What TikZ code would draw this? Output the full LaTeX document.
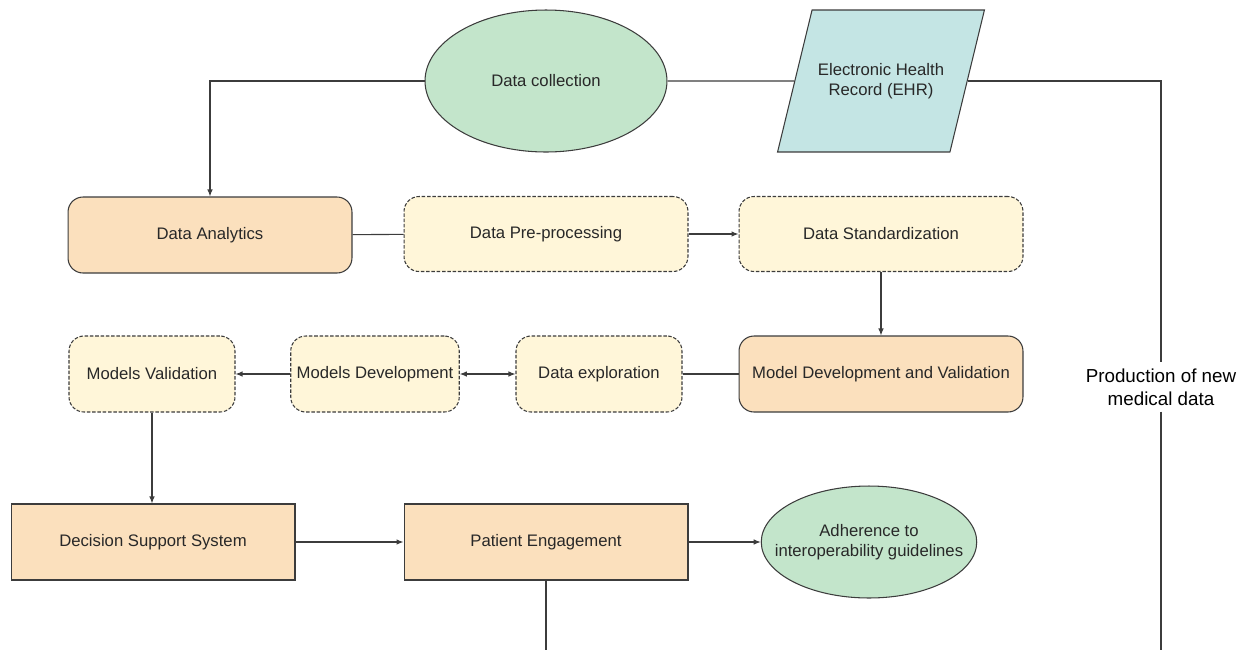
\documentclass[tikz,border=0pt]{standalone}
\usepackage{fontspec}
\setmainfont{Liberation Sans}
\usetikzlibrary{arrows.meta,shapes.geometric,positioning,calc}
\definecolor{peach}{RGB}{251,224,189}
\definecolor{cream}{RGB}{255,246,217}
\definecolor{leaf}{RGB}{195,229,203}
\definecolor{aqua}{RGB}{196,229,228}
\definecolor{edgegray}{RGB}{60,60,60}
\definecolor{textgray}{RGB}{40,40,40}
\tikzset{
    flow/.style={-{Latex[length=1.4mm, width=1.1mm]}, draw=edgegray, line width=0.6pt},
    twoway/.style={{Latex[length=1.4mm, width=1.1mm]}-{Latex[length=1.4mm, width=1.1mm]}, draw=edgegray, line width=0.6pt},
    link/.style={draw=edgegray, line width=0.6pt},
    boxtext/.style={font=\fontsize{9.5pt}{11.5pt}\selectfont, text=textgray, align=center},
    mainbox/.style={boxtext, draw=edgegray, line width=0.6pt, fill=peach, rounded corners=0.3cm, minimum width=5.68cm, minimum height=1.52cm},
    stepbox/.style={boxtext, draw=edgegray, line width=0.6pt, fill=cream, dash pattern=on 2pt off 1pt, rounded corners=0.3cm, minimum width=5.68cm, minimum height=1.5cm},
    smallbox/.style={stepbox, minimum width=3.32cm, minimum height=1.52cm},
    flatbox/.style={mainbox, rounded corners=0pt},
    bubble/.style={boxtext, ellipse, draw=edgegray, line width=0.6pt, fill=leaf, inner sep=0pt},
    record/.style={boxtext, trapezium, trapezium left angle=54, trapezium right angle=126, trapezium stretches body=true, draw=edgegray, line width=0.6pt, fill=aqua, minimum width=4.04cm, minimum height=2.84cm}
}

\begin{document}
\begin{tikzpicture}[x=0.02cm, y=-0.02cm]
\useasboundingbox (0,0) rectangle (1248,650);

% top row
\node[bubble, minimum width=4.84cm, minimum height=2.84cm] (collect) at (546,81) {Data collection};
\node[record] (ehr) at (881,81) {Electronic Health\\Record (EHR)};

% processing row
\node[mainbox] (analytics) at (210,235) {Data Analytics};
\node[stepbox] (preproc) at (546,234) {Data Pre-processing};
\node[stepbox] (standard) at (881,234) {Data Standardization};

% modelling row
\node[mainbox] (mdv) at (881,374) {Model Development and Validation};
\node[smallbox] (explore) at (599,374) {Data exploration};
\node[smallbox] (modeldev) at (375,374) {Models Development};
\node[smallbox] (modelval) at (152,374) {Models Validation};

% bottom row
\node[flatbox] (dss) at (153,542) {Decision Support System};
\node[flatbox] (engage) at (546,542) {Patient Engagement};
\node[bubble, inner xsep=-0.36cm, minimum width=4.28cm, minimum height=2.24cm] (adhere) at (869,542) {Adherence to\\interoperability guidelines};

% feedback label
\node[font=\fontsize{10.7pt}{13pt}\selectfont, text=black, align=center] (prodlabel) at (1161,387) {Production of new\\medical data};
\coordinate (prodend) at (1161,650);
\coordinate (engageend) at (546,650);

\draw[flow] (collect.west) -| (analytics.north);
\draw[link] (collect.east) -- (ehr.west);
\draw[link] (ehr.east) -| (prodlabel.north);
\draw[link] (prodlabel.south) -- (prodend);
\draw[link] (analytics) -- (preproc);
\draw[flow] (preproc) -- (standard);
\draw[flow] (standard) -- (mdv);
\draw[link] (mdv) -- (explore);
\draw[twoway] (modeldev) -- (explore);
\draw[flow] (modeldev) -- (modelval);
\draw[flow] (modelval.south) -- (modelval.south |- dss.north);
\draw[flow] (dss) -- (engage);
\draw[flow] (engage) -- (adhere);
\draw[link] (engage.south) -- (engageend);
\end{tikzpicture}
\end{document}
